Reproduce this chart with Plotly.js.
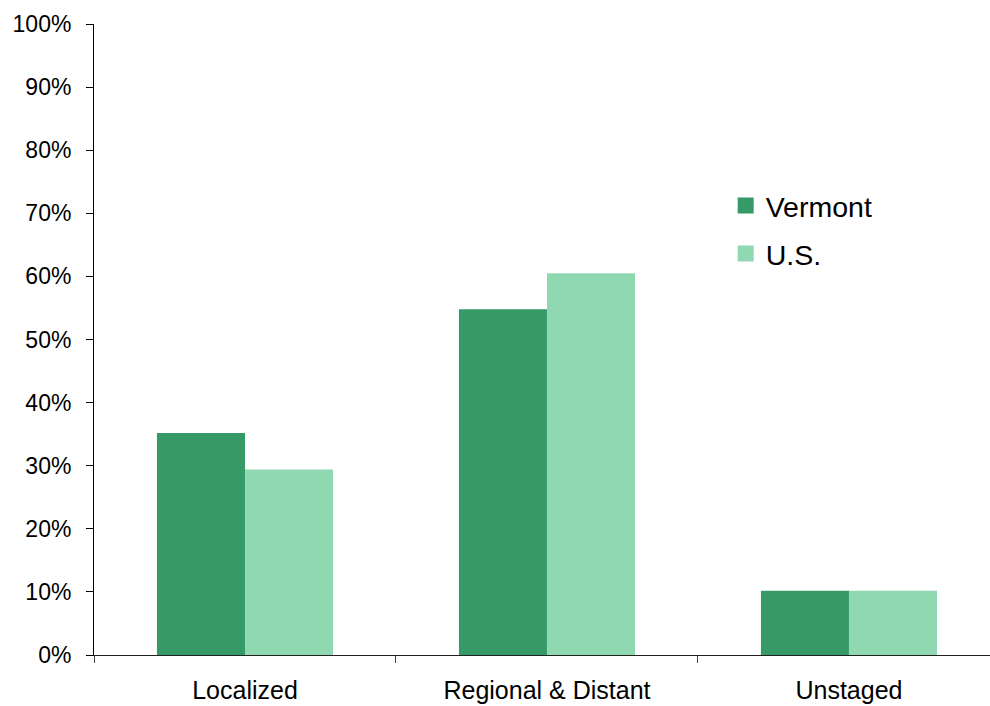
<!DOCTYPE html>
<html>
<head>
<meta charset="utf-8">
<script src="https://cdn.plot.ly/plotly-3.0.1.min.js"></script>
<style>html,body{margin:0;padding:0;background:#fff}#chart{width:990px;height:706px}</style>
</head>
<body>
<div id="chart"></div>
<script>
const categories = ["Localized", "Regional & Distant", "Unstaged"];
const vermont = [35.2, 54.8, 10.2];
const us = [29.4, 60.5, 10.2];
const seriesNames = ["Vermont", "U.S."];
const seriesColors = ["#359a67", "#8fd8b2"];
const yTicks = [0, 10, 20, 30, 40, 50, 60, 70, 80, 90, 100];
const yTickLabels = yTicks.map(v => v + "%");

const font = "Liberation Sans, Arial, sans-serif";
const data = [
  {type: "bar", name: seriesNames[0], x: categories, y: vermont, marker: {color: seriesColors[0]}, showlegend: false},
  {type: "bar", name: seriesNames[1], x: categories, y: us, marker: {color: seriesColors[1]}, showlegend: false},
  {type: "scatter", mode: "markers", name: seriesNames[0], x: [null], y: [null], legendgroup: "a",
   marker: {symbol: "square", size: 20, color: seriesColors[0]}},
  {type: "scatter", mode: "markers", name: seriesNames[1], x: [null], y: [null], legendgroup: "b",
   marker: {symbol: "square", size: 20, color: seriesColors[1]}}
];
const layout = {
  width: 990, height: 706,
  margin: {l: 94, r: 0, t: 24, b: 51},
  paper_bgcolor: "#fff", plot_bgcolor: "#fff",
  font: {family: font, color: "#000", size: 23},
  barmode: "group", bargap: 0.417, bargroupgap: 0,
  showlegend: true,
  legend: {x: 0.705, y: 0.752, xanchor: "left", yanchor: "top", font: {size: 28.5, family: font},
           itemsizing: "trace", traceorder: "grouped", tracegroupgap: 8, bgcolor: "rgba(0,0,0,0)"},
  xaxis: {
    range: [-0.5, 2.467], showgrid: false, zeroline: false,
    showline: true, linecolor: "#222", linewidth: 1,
    ticks: "outside", ticklen: 7, tickcolor: "#444", tickson: "boundaries",
    tickfont: {size: 25, family: font}, ticklabelstandoff: 13, fixedrange: true
  },
  yaxis: {
    range: [0, 100], tickvals: yTicks, ticktext: yTickLabels,
    showgrid: false, zeroline: false,
    showline: true, linecolor: "#000", linewidth: 1,
    ticks: "outside", ticklen: 7, tickcolor: "#000",
    tickfont: {size: 23, family: font}, ticklabelstandoff: 10
  }
};
Plotly.newPlot("chart", data, layout, {staticPlot: true});
</script>
</body>
</html>
